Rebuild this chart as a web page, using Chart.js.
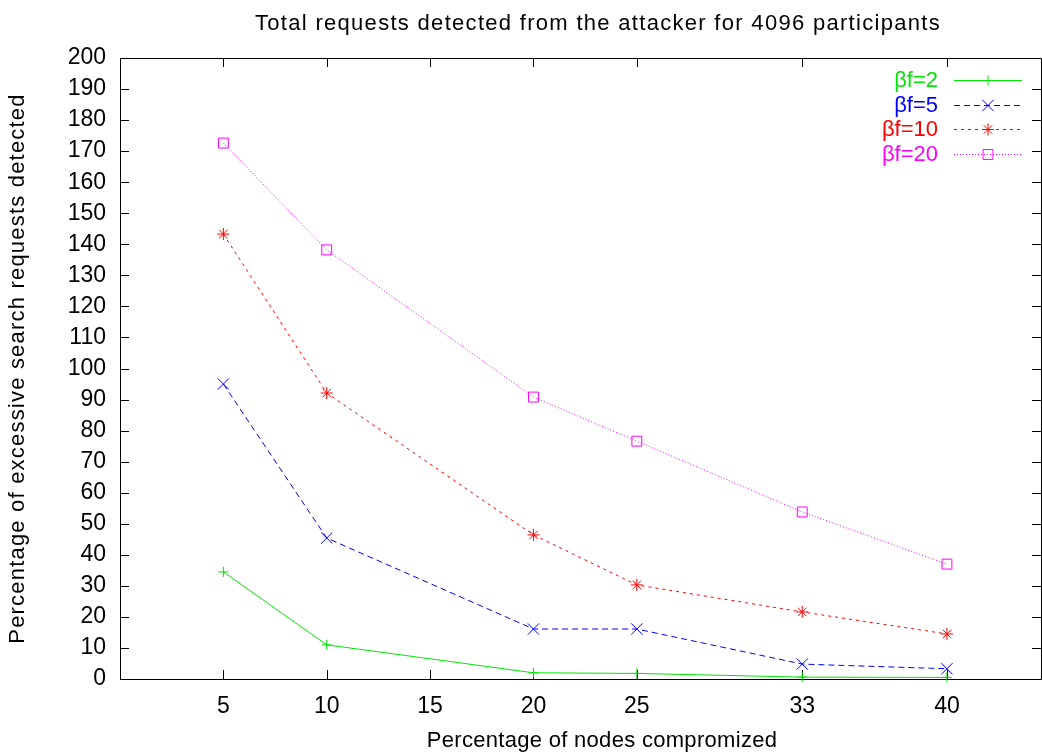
<!DOCTYPE html>
<html>
<head>
<meta charset="utf-8">
<script src="https://cdn.jsdelivr.net/npm/chart.js@4/dist/chart.umd.min.js"></script>
<style>
  html, body { margin: 0; padding: 0; background: #fff; }
  #wrap { width: 1042px; height: 752px; }
</style>
</head>
<body>
<div id="wrap"><canvas id="c"></canvas></div>
<script>
// values
var X_VALUES = [5, 10, 20, 25, 33, 40];
var X_TICKS = [5, 10, 15, 20, 25, 33, 40];
var BF2 = [34.5, 11.0, 2.0, 1.8, 0.6, 0.5];
var BF5 = [95.0, 45.4, 16.1, 16.1, 4.8, 3.3];
var BF10 = [143.3, 92.1, 46.4, 30.3, 21.6, 14.5];
var BF20 = [172.6, 138.2, 90.8, 76.6, 53.8, 37.0];

var TITLE = 'Total requests detected from the attacker for 4096 participants';
var X_TITLE = 'Percentage of nodes compromized';
var Y_TITLE = 'Percentage of excessive search requests detected';
var FONT = '"Liberation Sans", Arial, sans-serif';

function pts(ys) {
  return X_VALUES.map(function (x, i) {
    return { x: x, y: ys[i] };
  });
}

function series(label, ys, color, dash, style, radius) {
  return {
    label: label,
    data: pts(ys),
    borderColor: color,
    borderWidth: 1,
    borderDash: dash,
    pointStyle: style,
    pointRadius: radius,
    pointBorderColor: color,
    pointBackgroundColor: 'rgba(0,0,0,0)',
    pointBorderWidth: 1,
    tension: 0,
    fill: false,
    clip: false
  };
}

// gnuplot-like frame with inward ticks, centred titles and a custom key
var gnuplotLook = {
  id: 'gnuplotLook',
  beforeDatasetsDraw: function (chart) {
    var ctx = chart.ctx;
    var a = chart.chartArea;
    var xs = chart.scales.x;
    var ys = chart.scales.y;
    ctx.save();
    ctx.strokeStyle = '#000';
    ctx.lineWidth = 1;
    ctx.beginPath();
    ctx.rect(a.left + 0.5, a.top + 0.5, a.right - a.left, a.bottom - a.top);
    X_TICKS.forEach(function (v) {
      var px = Math.round(xs.getPixelForValue(v)) + 0.5;
      ctx.moveTo(px, a.bottom);
      ctx.lineTo(px, a.bottom - 9);
      ctx.moveTo(px, a.top);
      ctx.lineTo(px, a.top + 9);
    });
    ys.ticks.forEach(function (t) {
      var py = Math.round(ys.getPixelForValue(t.value)) + 0.5;
      ctx.moveTo(a.left, py);
      ctx.lineTo(a.left + 9, py);
      ctx.moveTo(a.right, py);
      ctx.lineTo(a.right - 9, py);
    });
    ctx.stroke();
    ctx.restore();
  },
  afterDraw: function (chart) {
    var ctx = chart.ctx;
    var a = chart.chartArea;
    ctx.save();
    ctx.fillStyle = '#000';
    ctx.font = '22px ' + FONT;
    ctx.textAlign = 'center';
    ctx.textBaseline = 'middle';
    ctx.letterSpacing = '1.3px';
    ctx.fillText(TITLE, 598, 24);
    ctx.letterSpacing = '0.3px';
    ctx.fillText(X_TITLE, 602, 741);

    ctx.save();
    ctx.translate(18, (a.top + a.bottom) / 2);
    ctx.rotate(-Math.PI / 2);
    ctx.letterSpacing = '1.2px';
    ctx.fillText(Y_TITLE, 0, 0);
    ctx.restore();
    ctx.letterSpacing = '0px';

    // key
    chart.data.datasets.forEach(function (ds, i) {
      var y = 80 + i * 24.5;
      ctx.font = '22px ' + FONT;
      ctx.textAlign = 'right';
      ctx.fillStyle = ds.borderColor;
      ctx.fillText(ds.label, 938, y + 1);
      ctx.strokeStyle = ds.borderColor;
      ctx.lineWidth = 1;
      ctx.setLineDash(ds.borderDash);
      ctx.beginPath();
      ctx.moveTo(954, Math.round(y) + 0.5);
      ctx.lineTo(1022, Math.round(y) + 0.5);
      ctx.stroke();
      ctx.setLineDash([]);
      ctx.fillStyle = 'rgba(0,0,0,0)';
      Chart.helpers.drawPoint(ctx, {
        pointStyle: ds.pointStyle,
        radius: ds.pointRadius,
        rotation: 0,
        borderWidth: 1
      }, 988, Math.round(y) + 0.5);
    });
    ctx.restore();
  }
};

new Chart(document.getElementById('c'), {
  type: 'line',
  data: {
    datasets: [
      series('\u03b2f=2', BF2, '#00e600', [], 'cross', 5),
      series('\u03b2f=5', BF5, '#0000ff', [6, 4], 'crossRot', 8),
      series('\u03b2f=10', BF10, '#ff0000', [3, 4], 'star', 6),
      series('\u03b2f=20', BF20, '#ff00ff', [1, 2], 'rect', 7)
    ]
  },
  options: {
    responsive: true,
    maintainAspectRatio: false,
    animation: false,
    devicePixelRatio: 1,
    layout: { autoPadding: false, padding: { top: 58, right: 1, left: 0, bottom: 0 } },
    plugins: {
      legend: { display: false },
      title: { display: false },
      tooltip: { enabled: false }
    },
    scales: {
      x: {
        type: 'linear',
        min: 0,
        max: 44.55,
        grid: { display: false, drawTicks: false },
        border: { display: false },
        afterBuildTicks: function (scale) {
          scale.ticks = X_TICKS.map(function (v) {
            return { value: v };
          });
        },
        afterFit: function (scale) {
          scale.height = 73;
          scale.paddingLeft = 0;
          scale.paddingRight = 0;
        },
        ticks: {
          color: '#000',
          padding: 14,
          maxRotation: 0,
          autoSkip: false,
          font: { family: FONT, size: 23 }
        }
      },
      y: {
        min: 0,
        max: 200,
        grid: { display: false, drawTicks: false },
        border: { display: false },
        afterFit: function (scale) {
          scale.width = 120;
          scale.paddingTop = 0;
          scale.paddingBottom = 0;
        },
        ticks: {
          stepSize: 10,
          color: '#000',
          padding: 14,
          autoSkip: false,
          font: { family: FONT, size: 23 }
        }
      }
    }
  },
  plugins: [gnuplotLook]
});
</script>
</body>
</html>
